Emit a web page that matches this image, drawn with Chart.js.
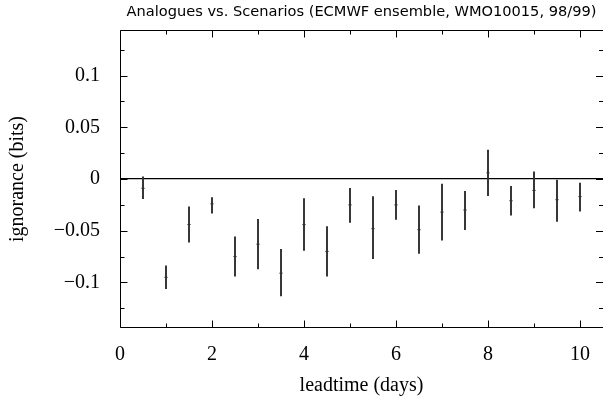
<!DOCTYPE html>
<html>
<head>
<meta charset="utf-8">
<script src="https://cdn.jsdelivr.net/npm/chart.js@4.4.1/dist/chart.umd.min.js"></script>
<style>
  html, body { margin: 0; padding: 0; background: #fff; }
  #wrap { width: 603px; height: 399px; }
</style>
</head>
<body>
<div id="wrap"><canvas id="c" width="603" height="399"></canvas></div>
<script>
// Lead times (days) at which the ignorance difference was evaluated
const leadtimes = [0.5, 1, 1.5, 2, 2.5, 3, 3.5, 4, 4.5, 5, 5.5, 6, 6.5, 7, 7.5, 8, 8.5, 9, 9.5, 10];
// Mean ignorance difference (bits)
const centre = [-0.009, -0.095, -0.044, -0.024, -0.075, -0.063, -0.091, -0.044, -0.070, -0.025,
                -0.048, -0.025, -0.049, -0.032, -0.030, 0.006, -0.021, -0.011, -0.020, -0.017];
// Lower and upper ends of the uncertainty bars (bits)
const lower = [-0.019, -0.106, -0.061, -0.033, -0.094, -0.087, -0.113, -0.069, -0.094, -0.042,
               -0.077, -0.039, -0.072, -0.059, -0.049, -0.016, -0.035, -0.028, -0.041, -0.031];
const upper = [0.002, -0.084, -0.027, -0.018, -0.056, -0.039, -0.068, -0.019, -0.046, -0.009,
               -0.017, -0.011, -0.026, -0.005, -0.012, 0.028, -0.007, 0.007, -0.001, -0.004];

// Axis ranges and tick spacing
const xRange = [0, 10.5];
const yRange = [-0.144, 0.144];
const xStep = 1;          // minor x tick every day, labels every 2 days
const yStep = 0.025;      // minor y tick, labels every 0.05

const serif = "'Liberation Serif', 'DejaVu Serif', serif";

function isMultiple(v, m) {
  const r = v / m;
  return Math.abs(r - Math.round(r)) < 1e-6;
}
function fmtY(v) {
  const r = Math.round(v * 1000) / 1000;
  if (r === 0) return '0';
  return (r < 0 ? '\u2212' : '') + String(Math.abs(r));
}

// Frame with inward ticks on all four sides
const frameTicks = {
  id: 'frameTicks',
  afterDatasetsDraw(chart) {
    const { ctx, chartArea: a, scales: { x, y } } = chart;
    ctx.save();
    ctx.strokeStyle = '#000';
    ctx.lineWidth = 1;
    ctx.beginPath();
    const L = Math.round(a.left) + 0.5, T = Math.round(a.top) + 0.5;
    const B = Math.round(a.bottom) - 0.5, R = a.right + 1;
    ctx.moveTo(R, T); ctx.lineTo(L, T); ctx.lineTo(L, B); ctx.lineTo(R, B);
    y.ticks.forEach(t => {
      const py = Math.round(y.getPixelForValue(t.value)) + 0.5;
      const len = isMultiple(t.value, 0.05) ? 7 : 4;
      ctx.moveTo(L, py); ctx.lineTo(L + len, py);
      ctx.moveTo(a.right, py); ctx.lineTo(a.right - len, py);
    });
    x.ticks.forEach(t => {
      const px = Math.round(x.getPixelForValue(t.value)) + 0.5;
      const len = isMultiple(t.value, 2) ? 7 : 4;
      ctx.moveTo(px, B); ctx.lineTo(px, B - len);
      ctx.moveTo(px, T); ctx.lineTo(px, T + len);
    });
    ctx.stroke();
    ctx.restore();
  }
};

const barData = leadtimes.map((t, i) => ({ x: t, y: [lower[i], upper[i]] }));
const midData = leadtimes.map((t, i) => ({ x: t, y: centre[i] }));

new Chart(document.getElementById('c'), {
  type: 'bar',
  data: {
    datasets: [
      {
        type: 'bar',
        data: barData,
        backgroundColor: '#333',
        borderWidth: 0,
        barThickness: 1.3,
        grouped: false
      },
      {
        type: 'scatter',
        data: midData,
        pointStyle: 'line',
        radius: 1.5,
        hoverRadius: 1.5,
        borderColor: '#000',
        borderWidth: 1,
        backgroundColor: '#000'
      }
    ]
  },
  options: {
    responsive: false,
    animation: false,
    devicePixelRatio: 1,
    layout: { padding: 0, autoPadding: false },
    plugins: {
      legend: { display: false },
      tooltip: { enabled: false },
      title: {
        display: true,
        fullSize: false,
        text: 'Analogues vs. Scenarios (ECMWF ensemble, WMO10015, 98/99)',
        color: '#000',
        font: { family: "'DejaVu Sans', sans-serif", size: 14.6, weight: 'normal', lineHeight: 1.2 },
        padding: { top: 3, bottom: 9.5 }
      }
    },
    scales: {
      x: {
        type: 'linear',
        min: xRange[0],
        max: xRange[1],
        offset: false,
        border: { display: false },
        grid: { display: false, drawTicks: false, offset: false },
        ticks: {
          stepSize: xStep,
          includeBounds: false,
          autoSkip: false,
          maxRotation: 0,
          padding: 15,
          color: '#000',
          font: { family: serif, size: 20, lineHeight: 1.2 },
          callback: v => (isMultiple(v, 2) ? String(Math.round(v)) : '')
        },
        title: {
          display: true,
          text: 'leadtime (days)',
          color: '#000',
          font: { family: serif, size: 20, lineHeight: 1.2 },
          padding: { top: 0, bottom: 1 }
        },
        afterFit(s) { s.height = 71; s.paddingLeft = 0; s.paddingRight = 0; }
      },
      y: {
        type: 'linear',
        min: yRange[0],
        max: yRange[1],
        border: { display: false },
        grid: {
          drawTicks: false,
          color: c => (c.tick && Math.abs(c.tick.value) < 1e-9 ? '#000' : 'rgba(0,0,0,0)'),
          lineWidth: 1.2
        },
        ticks: {
          stepSize: yStep,
          includeBounds: false,
          autoSkip: false,
          padding: 20,
          color: '#000',
          font: { family: serif, size: 20, lineHeight: 1.2 },
          callback: v => (isMultiple(v, 0.05) ? fmtY(v) : '')
        },
        title: {
          display: true,
          text: 'ignorance (bits)',
          color: '#000',
          font: { family: serif, size: 20, lineHeight: 1.2 },
          padding: { top: 6, bottom: 0 }
        },
        afterFit(s) { s.width = 120; s.paddingTop = 0; s.paddingBottom = 0; }
      }
    }
  },
  plugins: [frameTicks]
});
</script>
</body>
</html>
